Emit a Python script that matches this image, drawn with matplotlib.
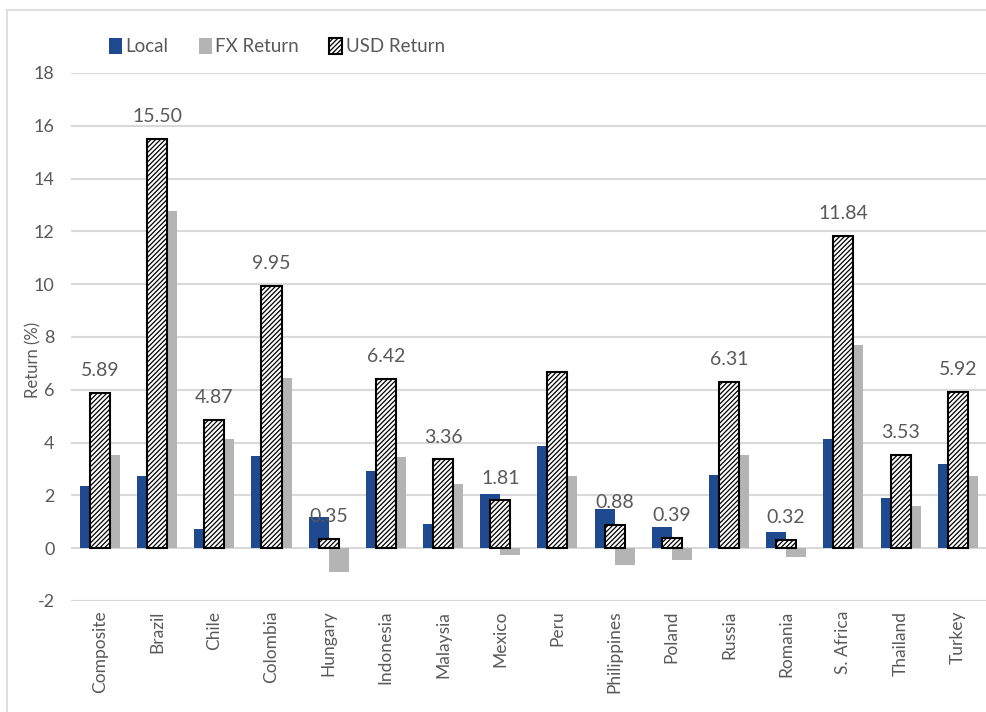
import numpy as np
import matplotlib.pyplot as plt
from matplotlib.lines import Line2D

countries = ["Composite", "Brazil", "Chile", "Colombia", "Hungary", "Indonesia",
             "Malaysia", "Mexico", "Peru", "Philippines", "Poland", "Russia",
             "Romania", "S. Africa", "Thailand", "Turkey"]
local = [2.35, 2.73, 0.72, 3.48, 1.19, 2.92, 0.91, 2.05, 3.86, 1.48, 0.81, 2.76,
         0.61, 4.13, 1.89, 3.18]
fx = [3.52, 12.77, 4.13, 6.44, -0.90, 3.46, 2.42, -0.27, 2.73, -0.63, -0.45, 3.52,
      -0.33, 7.69, 1.59, 2.73]
usd = [5.89, 15.50, 4.87, 9.95, 0.35, 6.42, 3.36, 1.81, 6.67, 0.88, 0.39, 6.31,
       0.32, 11.84, 3.53, 5.92]
# Peru has no data label in the original
show_label = [True] * 8 + [False] + [True] * 7

plt.rcParams['font.family'] = ['Lato', 'DejaVu Sans']
plt.rcParams['hatch.linewidth'] = 0.9
plt.rcParams['axes.unicode_minus'] = False

blue = '#1f4a8f'
grey = '#b4b4b4'
txt = '#595959'

fig = plt.figure(figsize=(9.87, 7.12), dpi=100)
ax = fig.add_axes([0.0723, 0.1559, 0.927, 0.7416])

x = np.arange(len(countries))
w = 0.35
ax.bar(x - w / 2, local, w, color=blue, zorder=2, label='Local')
ax.bar(x + w / 2, fx, w, color=grey, zorder=2, label='FX Return')
bars = ax.bar(x, usd, w, color='white', edgecolor='black', hatch='/' * 7,
              linewidth=1.5, zorder=3, label='USD Return')

for i, b in enumerate(bars):
    if show_label[i]:
        ax.annotate(f"{usd[i]:.2f}", (b.get_x() + b.get_width() / 2, usd[i]),
                    xytext=(0, 16), textcoords='offset points', ha='center',
                    va='center', fontsize=14, color=txt, zorder=4)

ax.set_xlim(-0.5, len(countries) - 0.5)
ax.set_ylim(-2, 18)
ax.set_yticks(np.arange(-2, 19, 2))
ax.yaxis.grid(True, color='#d9d9d9', linewidth=1.5, zorder=0)
ax.set_axisbelow(True)
for s in ax.spines.values():
    s.set_visible(False)
ax.tick_params(axis='both', length=0, colors=txt, labelsize=13)
ax.tick_params(axis='y', pad=12)
ax.set_xticks(x)
ax.set_xticklabels(countries, rotation=90, fontsize=12.5, color=txt)
ax.tick_params(axis='x', pad=7)
ax.set_ylabel("Return (%)", fontsize=12, color=txt)
ax.yaxis.set_label_coords(-0.033, 0.456)

ax.legend(loc='upper left', bbox_to_anchor=(0.093, 0.97), bbox_transform=fig.transFigure,
          ncol=3, frameon=False, fontsize=13.5, handlelength=0.7, handleheight=0.9,
          handletextpad=0.2, columnspacing=1.6, labelcolor=txt)

# chart frame (top and left edges visible)
fig.add_artist(Line2D([0.0071, 0.0071], [0, 0.986], transform=fig.transFigure,
                      color='#d9d9d9', linewidth=1.2))
fig.add_artist(Line2D([0.0071, 1], [0.986, 0.986], transform=fig.transFigure,
                      color='#d9d9d9', linewidth=1.2))

fig.savefig('out.png', dpi=100)
